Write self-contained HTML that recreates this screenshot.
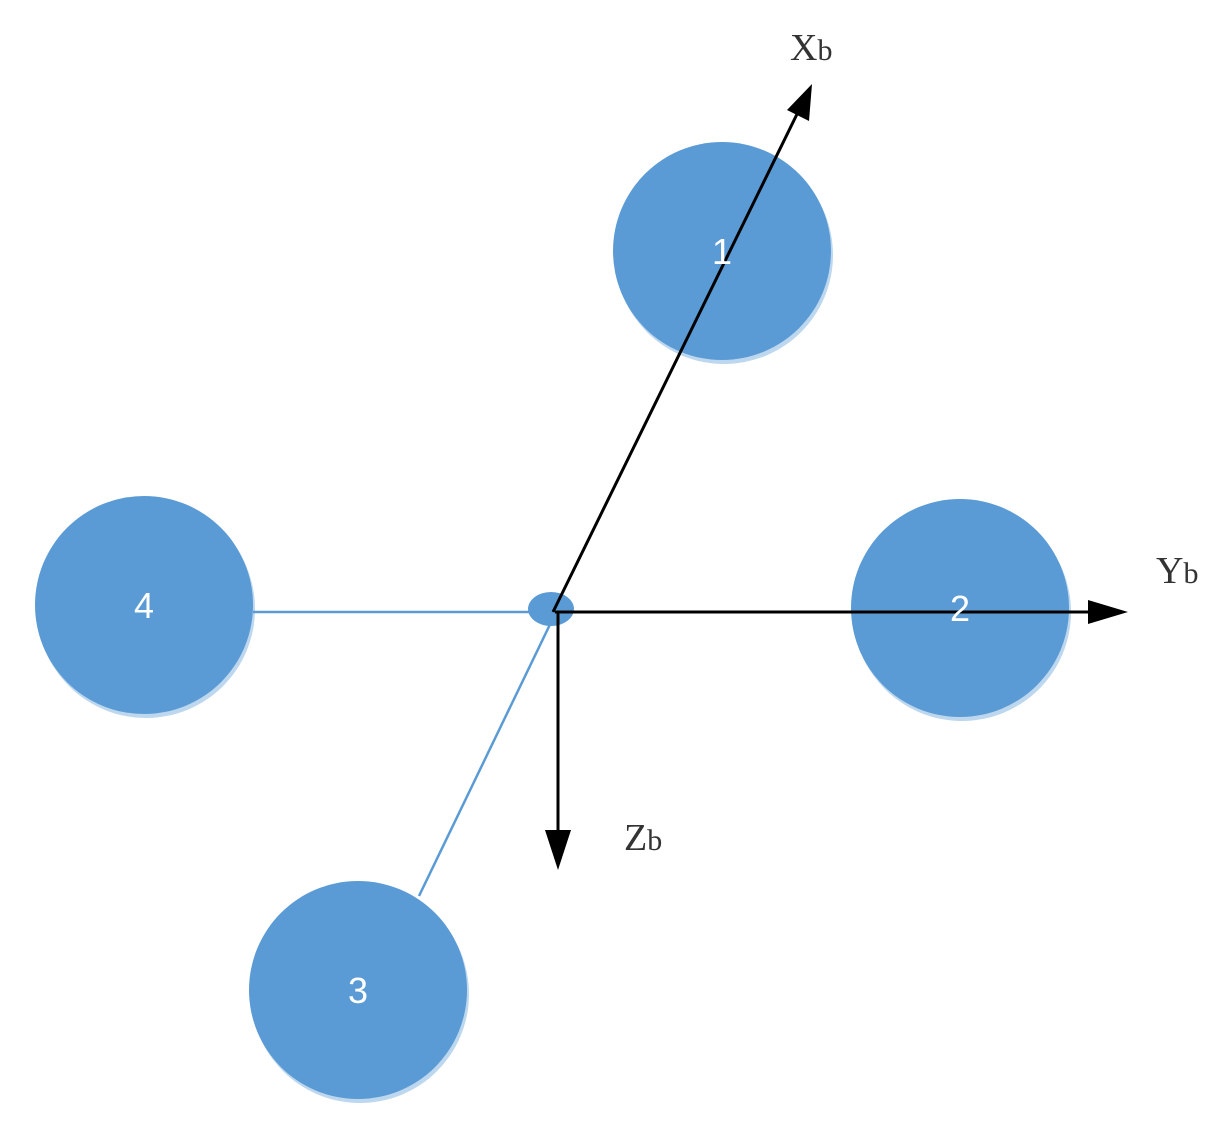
<!DOCTYPE html>
<html><head><style>body{margin:0;background:#fff}svg{display:block}</style></head>
<body>
<svg width="1230" height="1146" xmlns="http://www.w3.org/2000/svg">
<g fill="#bdd7ee">
<circle cx="724" cy="255" r="109"/><circle cx="962" cy="612" r="109"/>
<circle cx="146" cy="609" r="109"/><circle cx="360" cy="994" r="109"/>
</g>
<g fill="#5b9bd5">
<circle cx="722" cy="251" r="109"/><circle cx="960" cy="608" r="109"/>
<circle cx="144" cy="605" r="109"/><circle cx="358" cy="990" r="109"/>
<ellipse cx="551" cy="609" rx="23" ry="17"/>
</g>
<g stroke="#5b9bd5" stroke-width="2.5">
<line x1="253" y1="612" x2="556" y2="612"/>
<line x1="556" y1="612" x2="419" y2="896"/>
</g>
<g stroke="#000" stroke-width="3">
<line x1="555" y1="612" x2="1092" y2="612"/>
<line x1="558" y1="612" x2="558" y2="832"/>
<line x1="553" y1="612" x2="800" y2="108"/>
</g>
<g fill="#000">
<polygon points="1128,612 1088,600 1088,624"/>
<polygon points="558,870 545,830 571,830"/>
<polygon points="812,84 787,110 809,121"/>
</g>
<g font-family="Liberation Sans, sans-serif" font-size="36" fill="#fff" text-anchor="middle">
<text x="722" y="264">1</text><text x="960" y="621">2</text>
<text x="144" y="618">4</text><text x="358" y="1003">3</text>
</g>
<g font-family="Liberation Serif, serif" font-size="38" fill="#333">
<text x="790" y="60">X<tspan font-size="30">b</tspan></text>
<text x="1156" y="583">Y<tspan font-size="30">b</tspan></text>
<text x="624" y="850">Z<tspan font-size="30">b</tspan></text>
</g>
</svg>
</body></html>
